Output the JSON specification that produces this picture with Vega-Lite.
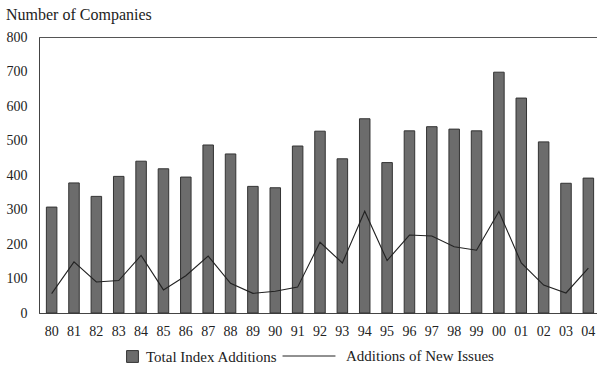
{
  "$schema": "https://vega.github.io/schema/vega-lite/v6.json",
  "autosize": "none",
  "padding": {"left": 39, "top": 37, "right": 0, "bottom": 53},
  "width": 562,
  "height": 276,
  "background": "white",
  "title": {
    "text": "Number of Companies",
    "anchor": "start",
    "frame": "group",
    "dx": -33,
    "offset": 7,
    "font": "Liberation Serif",
    "fontSize": 16,
    "fontWeight": "normal",
    "color": "#222"
  },
  "config": {
    "view": {"stroke": "#555", "strokeWidth": 1},
    "axis": {
      "labelFont": "Liberation Serif",
      "labelFontSize": 14,
      "labelColor": "#222",
      "domainColor": "#444",
      "ticks": false,
      "grid": false,
      "title": null,
      "labelOverlap": false
    },
    "legend": {
      "labelFont": "Liberation Serif",
      "labelFontSize": 15,
      "labelColor": "#222",
      "title": null
    }
  },
  "data": {
    "values": [
      {"year": "80", "total": 307, "newIssues": 56},
      {"year": "81", "total": 377, "newIssues": 148},
      {"year": "82", "total": 338, "newIssues": 90},
      {"year": "83", "total": 396, "newIssues": 94},
      {"year": "84", "total": 440, "newIssues": 167},
      {"year": "85", "total": 418, "newIssues": 67},
      {"year": "86", "total": 394, "newIssues": 108},
      {"year": "87", "total": 487, "newIssues": 165},
      {"year": "88", "total": 461, "newIssues": 86},
      {"year": "89", "total": 367, "newIssues": 57},
      {"year": "90", "total": 363, "newIssues": 63},
      {"year": "91", "total": 484, "newIssues": 75},
      {"year": "92", "total": 527, "newIssues": 205},
      {"year": "93", "total": 447, "newIssues": 145},
      {"year": "94", "total": 563, "newIssues": 295},
      {"year": "95", "total": 436, "newIssues": 152},
      {"year": "96", "total": 528, "newIssues": 226},
      {"year": "97", "total": 540, "newIssues": 223},
      {"year": "98", "total": 533, "newIssues": 192},
      {"year": "99", "total": 528, "newIssues": 182},
      {"year": "00", "total": 698, "newIssues": 294},
      {"year": "01", "total": 623, "newIssues": 145},
      {"year": "02", "total": 496, "newIssues": 81},
      {"year": "03", "total": 376, "newIssues": 58},
      {"year": "04", "total": 391, "newIssues": 130}
    ]
  },
  "encoding": {
    "x": {
      "field": "year",
      "type": "ordinal",
      "sort": null,
      "scale": {"paddingInner": 0.53, "paddingOuter": 0.33},
      "axis": {"labelAngle": 0, "labelPadding": 11, "domain": true}
    }
  },
  "layer": [
    {
      "mark": {"type": "bar", "stroke": "#333", "strokeWidth": 1},
      "encoding": {
        "y": {
          "field": "total",
          "type": "quantitative",
          "scale": {"domain": [0, 800], "nice": false},
          "axis": {"values": [0, 100, 200, 300, 400, 500, 600, 700, 800], "labelPadding": 12, "labelOverlap": false}
        },
        "fill": {
          "datum": "Total Index Additions",
          "type": "nominal",
          "scale": {"range": ["#6c6c6c"]},
          "legend": {"orient": "none", "legendX": 86, "legendY": 312, "symbolType": "square", "symbolSize": 140, "symbolStrokeColor": "#333", "symbolStrokeWidth": 1, "labelOffset": 6}
        }
      }
    },
    {
      "mark": {"type": "line", "strokeWidth": 1.1},
      "encoding": {
        "y": {
          "field": "newIssues",
          "type": "quantitative",
          "axis": {"values": [0, 100, 200, 300, 400, 500, 600, 700, 800], "labelPadding": 12, "labelOverlap": false}
        },
        "stroke": {
          "datum": "Additions of New Issues",
          "type": "nominal",
          "scale": {"range": ["#222"]},
          "legend": {"orient": "none", "legendX": 243, "legendY": 292, "symbolType": "stroke", "symbolSize": 2800, "symbolStrokeWidth": 1, "labelOffset": 10}
        }
      }
    }
  ]
}
